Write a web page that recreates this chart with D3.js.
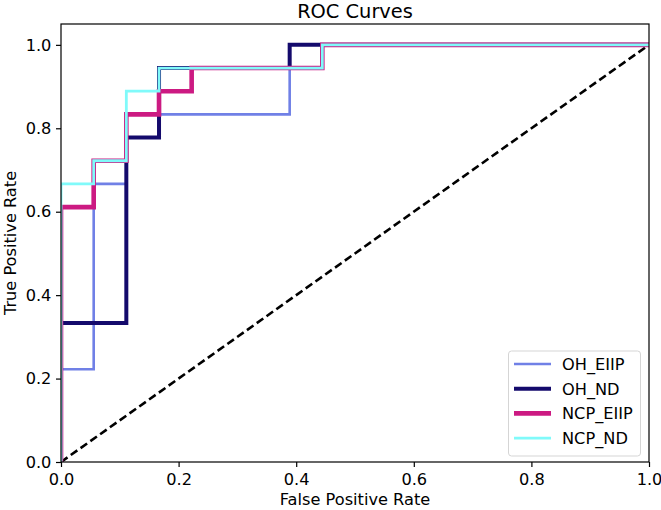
<!DOCTYPE html>
<html><head><meta charset="utf-8">
<script src="https://cdn.jsdelivr.net/npm/d3@7"></script>
<style>body{margin:0;background:#fff}text{font-family:"DejaVu Sans",sans-serif}</style>
</head><body><svg id="c" width="661" height="510"></svg>
<script>
const seriesNames = ["OH_EIIP","OH_ND","NCP_EIIP","NCP_ND"];
const ohEiipFpr = [0,0,0.0556,0.0556,0.1111,0.1111,0.3889,0.3889,0.4444,0.4444,1];
const ohEiipTpr = [0,0.2222,0.2222,0.6667,0.6667,0.8333,0.8333,0.9444,0.9444,1,1];
const ohNdFpr = [0,0,0.1111,0.1111,0.1667,0.1667,0.3889,0.3889,1];
const ohNdTpr = [0,0.3333,0.3333,0.7778,0.7778,0.9444,0.9444,1,1];
const ncpEiipFpr = [0,0,0.0556,0.0556,0.1111,0.1111,0.1667,0.1667,0.2222,0.2222,0.4444,0.4444,1];
const ncpEiipTpr = [0,0.6111,0.6111,0.7222,0.7222,0.8333,0.8333,0.8889,0.8889,0.9444,0.9444,1,1];
const ncpNdFpr = [0,0,0.0556,0.0556,0.1111,0.1111,0.1667,0.1667,0.4444,0.4444,1];
const ncpNdTpr = [0,0.6667,0.6667,0.7222,0.7222,0.8889,0.8889,0.9444,0.9444,1,1];
const xTicks = [0,0.2,0.4,0.6,0.8,1.0];
const yTicks = [0,0.2,0.4,0.6,0.8,1.0];

const colors = ["#7080e6","#140a6c","#cc1a82","#80fafa"];
const widths = [2.6,4.0,4.6,2.8];
const fprs = [ohEiipFpr, ohNdFpr, ncpEiipFpr, ncpNdFpr];
const tprs = [ohEiipTpr, ohNdTpr, ncpEiipTpr, ncpNdTpr];

const L=61,R=649,T=24,B=462;
const FS=16.2;
const svg=d3.select("#c");
const x=d3.scaleLinear().domain([0,1]).range([L,R]);
const y=d3.scaleLinear().domain([0,1.05]).range([B,T]);
const line=d3.line().x(d=>x(d[0])).y(d=>y(d[1]));

svg.append("defs").append("clipPath").attr("id","clip").append("rect")
  .attr("x",L).attr("y",T).attr("width",R-L).attr("height",B-T);
const g=svg.append("g").attr("clip-path","url(#clip)");

g.append("path").datum([[0,0],[1,1]]).attr("d",line)
  .attr("stroke","#000").attr("stroke-width",2.6).attr("stroke-dasharray","8,4").attr("fill","none");

seriesNames.forEach((n,i)=>{
  const pts=fprs[i].map((f,j)=>[f,tprs[i][j]]);
  g.append("path").datum(pts).attr("d",line).attr("fill","none")
   .attr("stroke",colors[i]).attr("stroke-width",widths[i]).attr("stroke-linejoin","miter");
});

const xa=svg.append("g").attr("transform",`translate(0,${B})`)
  .call(d3.axisBottom(x).tickValues(xTicks).tickFormat(d3.format(".1f")).tickSize(5).tickSizeOuter(0));
const ya=svg.append("g").attr("transform",`translate(${L},0)`)
  .call(d3.axisLeft(y).tickValues(yTicks).tickFormat(d3.format(".1f")).tickSize(5).tickSizeOuter(0));
[xa,ya].forEach(a=>{a.select(".domain").remove();a.selectAll("text").attr("font-size",FS).attr("fill","#000").attr("font-family","DejaVu Sans");a.selectAll("line").attr("stroke","#000").attr("stroke-width",1.2);});
xa.selectAll("text").attr("dy","0.95em");
ya.selectAll("text").attr("dx","-0.1em");

svg.append("rect").attr("x",L).attr("y",T).attr("width",R-L).attr("height",B-T)
  .attr("fill","none").attr("stroke","#000").attr("stroke-width",1.2);

svg.append("text").attr("x",(L+R)/2).attr("y",18).attr("text-anchor","middle").attr("font-size",19.4).text("ROC Curves");
svg.append("text").attr("x",(L+R)/2).attr("y",505).attr("text-anchor","middle").attr("font-size",FS).text("False Positive Rate");
svg.append("text").attr("transform",`translate(16,${(T+B)/2}) rotate(-90)`).attr("text-anchor","middle").attr("font-size",FS).text("True Positive Rate");

const lg=svg.append("g");
lg.append("rect").attr("x",508.5).attr("y",351).attr("width",132).attr("height",105).attr("rx",3)
  .attr("fill","#fff").attr("fill-opacity",0.8).attr("stroke","#d5d5d5").attr("stroke-width",1);
seriesNames.forEach((n,i)=>{
  const yy=364+i*24.7;
  lg.append("line").attr("x1",514).attr("x2",551).attr("y1",yy).attr("y2",yy).attr("stroke",colors[i]).attr("stroke-width",widths[i]);
  lg.append("text").attr("x",562).attr("y",yy+6).attr("font-size",FS).text(n);
});
</script></body></html>
